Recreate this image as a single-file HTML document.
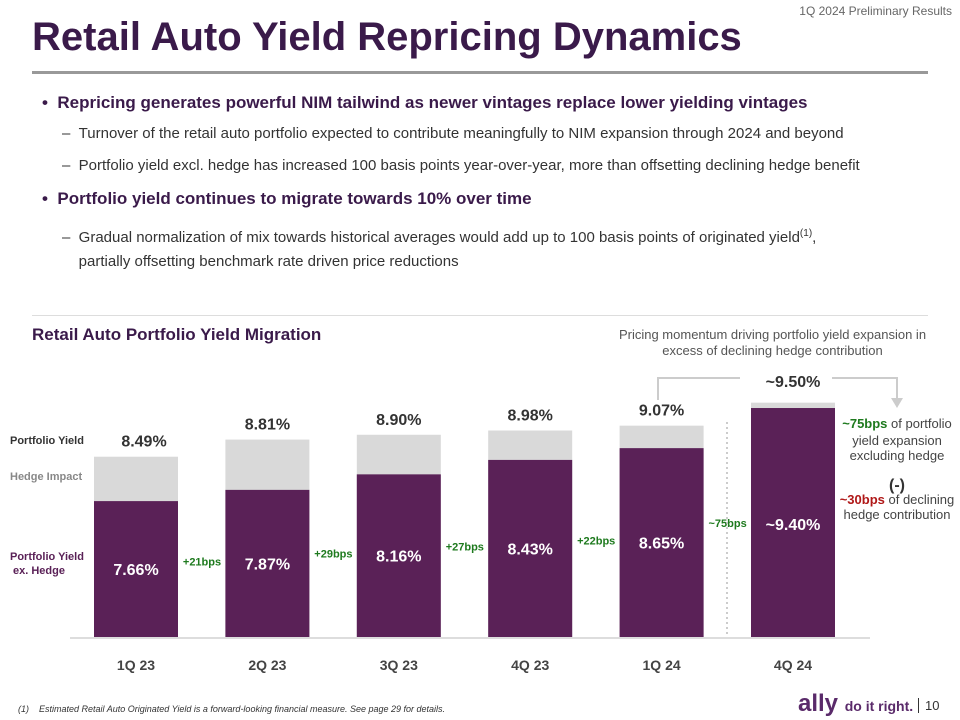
<!DOCTYPE html>
<html><head><meta charset="utf-8">
<style>
body{margin:0;width:960px;height:720px;background:#fff;font-family:"Liberation Sans",sans-serif;position:relative;overflow:hidden;color:#222}
.a{position:absolute;white-space:nowrap}
.t{font-weight:bold;color:#3a1a4a;font-size:40px;left:32px;top:15px;letter-spacing:0px}
.b1{font-weight:bold;font-size:17px;color:#3a1a4a}
.b2{font-size:15px;color:#333}
</style></head><body>
<div class="a" style="right:8px;top:4px;font-size:12px;color:#666">1Q 2024 Preliminary Results</div>
<div class="a t">Retail Auto Yield Repricing Dynamics</div>
<div class="a" style="left:32px;top:71px;width:896px;height:3px;background:#999"></div>
<div class="a b1" style="left:42px;top:93px">•&nbsp;&nbsp;Repricing generates powerful NIM tailwind as newer vintages replace lower yielding vintages</div>
<div class="a b2" style="left:62px;top:125px">–&nbsp;&nbsp;Turnover of the retail auto portfolio expected to contribute meaningfully to NIM expansion through 2024 and beyond</div>
<div class="a b2" style="left:62px;top:157px">–&nbsp;&nbsp;Portfolio yield excl. hedge has increased 100 basis points year-over-year, more than offsetting declining hedge benefit</div>
<div class="a b1" style="left:42px;top:189px">•&nbsp;&nbsp;Portfolio yield continues to migrate towards 10% over time</div>
<div class="a b2" style="left:62px;top:222px;line-height:24px">–&nbsp;&nbsp;Gradual normalization of mix towards historical averages would add up to 100 basis points of originated yield<sup style="font-size:10px">(1)</sup>,<br>&nbsp;&nbsp;&nbsp;&nbsp;partially offsetting benchmark rate driven price reductions</div>
<div class="a" style="left:32px;top:315px;width:896px;height:1px;background:#ddd"></div>
<div class="a" style="left:32px;top:325px;font-size:17px;font-weight:bold;color:#3a1a4a">Retail Auto Portfolio Yield Migration</div>
<div class="a" style="left:600px;top:327px;width:345px;text-align:center;font-size:13px;color:#555;line-height:16px;white-space:normal">Pricing momentum driving portfolio yield expansion in excess of declining hedge contribution</div>
<svg class="a" style="left:0;top:0" width="960" height="720" id="chart"></svg>
<div class="a" style="left:18px;top:704px;font-size:9px;font-style:italic;color:#333">(1)&nbsp;&nbsp;&nbsp;&nbsp;Estimated Retail Auto Originated Yield is a forward-looking financial measure. See page 29 for details.</div>
<div class="a" style="left:798px;top:690px;font-size:24px;font-weight:bold;color:#5a2a6a">ally <span style="font-size:14px">do it right.</span></div>
<div class="a" style="left:918px;top:698px;font-size:13px;color:#333;border-left:1px solid #333;padding-left:6px">10</div>
<script>
const categories=["1Q 23","2Q 23","3Q 23","4Q 23","1Q 24","4Q 24"];
const totalYield=[8.49,8.81,8.90,8.98,9.07,9.50];
const exHedge=[7.66,7.87,8.16,8.43,8.65,9.40];
const totalLabels=["8.49%","8.81%","8.90%","8.98%","9.07%","~9.50%"];
const exLabels=["7.66%","7.87%","8.16%","8.43%","8.65%","~9.40%"];
const deltaLabels=["+21bps","+29bps","+27bps","+22bps","~75bps"];
const NS="http://www.w3.org/2000/svg";
const svg=document.getElementById('chart');
const base=637, vmin=5.12, k=53.5;
function y(v){return base-(v-vmin)*k;}
function x(i){return 94+i*131.4;}
const bw=84;
function el(t,a,txt){const e=document.createElementNS(NS,t);for(const p in a)e.setAttribute(p,a[p]);if(txt!=null)e.textContent=txt;svg.appendChild(e);return e;}
let e=el('line',{x1:70,x2:870,y1:base+1,y2:base+1,stroke:'#ddd','stroke-width':2});


categories.forEach((c,i)=>{
  const last=i===5;
  let r=el('rect',{x:x(i),y:y(totalYield[i]),width:bw,height:base-y(totalYield[i]),fill:'#d9d9d9'});
  
  
  r=el('rect',{x:x(i),y:y(exHedge[i]),width:bw,height:base-y(exHedge[i]),fill:'#5a2157'});
  
  
  let ty=last?387:y(totalYield[i])-10;
  let tx=i===0?x(i)+bw/2+8:x(i)+bw/2;
  let t=el('text',{x:tx,y:ty,'text-anchor':'middle','font-size':16,'font-weight':'bold',fill:'#333','font-family':'Liberation Sans'},totalLabels[i]);
  
  
  let my=(y(exHedge[i])+base)/2+6;
  t=el('text',{x:x(i)+bw/2,y:last?530:my,'text-anchor':'middle','font-size':16,'font-weight':'bold',fill:'#fff','font-family':'Liberation Sans'},exLabels[i]);
  
  
  t=el('text',{x:x(i)+bw/2,y:670,'text-anchor':'middle','font-size':14,'font-weight':'bold',fill:'#444','font-family':'Liberation Sans'},c);
  
  
});
deltaLabels.forEach((d,i)=>{
  const yy=i===4?527:(y(exHedge[i+1])+base)/2+2;
  const t=el('text',{x:x(i)+bw+24,y:yy,'text-anchor':'middle','font-size':11,'font-weight':'bold',fill:'#1e7a1e','font-family':'Liberation Sans'},d);
  
  
});
e=el('line',{x1:727,x2:727,y1:422,y2:635,stroke:'#bbb','stroke-width':1.5,'stroke-dasharray':'2,3'});


e=el('path',{d:'M658,400 V378 H740 M832,378 H897 V400',fill:'none',stroke:'#ccc','stroke-width':2});


e=el('path',{d:'M891,398 L903,398 L897,408 Z',fill:'#ccc'});


const lbl=[["Portfolio Yield",10,444,'#333'],["Hedge Impact",10,480,'#888'],["Portfolio Yield",10,560,'#5a2157'],["ex. Hedge",13,574,'#5a2157']];
lbl.forEach((l,i)=>{const t=el('text',{x:l[1],y:l[2],'font-size':11,'font-weight':'bold',fill:l[3],'font-family':'Liberation Sans'},l[0]);

});
const side=[[428,[['~75bps','#1e7a1e',1],[' of portfolio','#444',0]]],[445,[['yield expansion','#444',0]]],[460,[['excluding hedge','#444',0]]],[490,[['(-)','#333',1]]],[504,[['~30bps','#b01818',1],[' of declining','#444',0]]],[519,[['hedge contribution','#444',0]]]];
side.forEach((s,i)=>{const t=el('text',{x:897,y:s[0],'text-anchor':'middle','font-size':s[1][0][0]==='(-)'?16:13,'font-family':'Liberation Sans'});


s[1].forEach(p=>{const ts=document.createElementNS(NS,'tspan');ts.setAttribute('fill',p[1]);if(p[2])ts.setAttribute('font-weight','bold');ts.textContent=p[0];t.appendChild(ts);});});
</script>
</body></html>
